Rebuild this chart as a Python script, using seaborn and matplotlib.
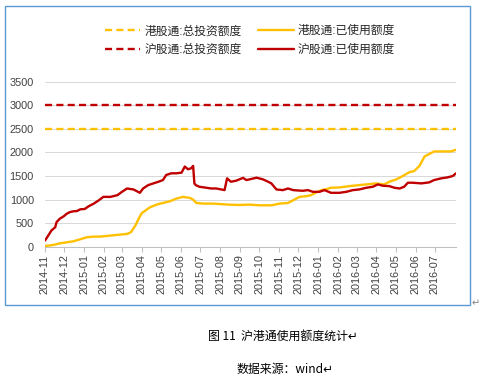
import matplotlib
matplotlib.use("Agg")
import matplotlib.pyplot as plt
import matplotlib.dates as mdates
from matplotlib.patches import Rectangle
import seaborn as sns
import pandas as pd

# ---------------- data ----------------
hk_quota = 2500   # 港股通:总投资额度
sh_quota = 3000   # 沪股通:总投资额度

sh_dates = ["2014-11-17", "2014-11-22", "2014-11-27", "2014-12-03", "2014-12-05", "2014-12-10",
            "2014-12-16", "2014-12-21", "2014-12-26", "2014-12-31", "2015-01-06", "2015-01-11",
            "2015-01-18", "2015-01-24", "2015-02-01", "2015-02-09", "2015-02-16", "2015-02-27",
            "2015-03-10", "2015-03-17", "2015-03-25", "2015-04-04", "2015-04-14", "2015-04-19",
            "2015-04-27", "2015-05-05", "2015-05-13", "2015-05-20", "2015-05-25", "2015-06-02",
            "2015-06-10", "2015-06-18", "2015-06-23", "2015-06-28", "2015-07-03", "2015-07-06",
            "2015-07-08", "2015-07-10", "2015-07-16", "2015-07-27", "2015-08-03", "2015-08-11",
            "2015-08-19", "2015-08-24", "2015-08-28", "2015-09-03", "2015-09-11", "2015-09-22",
            "2015-09-27", "2015-10-02", "2015-10-13", "2015-10-23", "2015-10-31", "2015-11-05",
            "2015-11-13", "2015-11-23", "2015-12-01", "2015-12-09", "2015-12-24", "2016-01-01",
            "2016-01-09", "2016-01-19", "2016-01-27", "2016-02-06", "2016-02-19", "2016-03-01",
            "2016-03-11", "2016-03-21", "2016-04-01", "2016-04-11", "2016-04-19", "2016-04-27",
            "2016-05-07", "2016-05-15", "2016-05-23", "2016-05-30", "2016-06-05", "2016-06-12",
            "2016-06-26", "2016-07-08", "2016-07-16", "2016-07-27", "2016-08-06", "2016-08-14",
            "2016-08-19"]
sh_used = [130, 235, 343, 414, 521, 593,
           643, 700, 735, 750, 757, 793,
           800, 857, 914, 985, 1057, 1057,
           1093, 1164, 1235, 1214, 1143, 1235,
           1307, 1343, 1378, 1414, 1521, 1557,
           1557, 1571, 1700, 1643, 1664, 1714,
           1343, 1307, 1271, 1250, 1235, 1235,
           1214, 1200, 1450, 1378, 1400, 1460,
           1414, 1428, 1464, 1428, 1378, 1343,
           1214, 1200, 1235, 1200, 1186, 1200,
           1164, 1164, 1200, 1143, 1143, 1164,
           1200, 1214, 1250, 1271, 1321, 1293,
           1285, 1250, 1235, 1271, 1357, 1357,
           1343, 1364, 1414, 1450, 1471, 1500,
           1557]

hk_dates = ["2014-11-17", "2014-11-30", "2014-12-10", "2014-12-21", "2014-12-31", "2015-01-11",
            "2015-01-21", "2015-02-01", "2015-02-11", "2015-02-21", "2015-03-04", "2015-03-14",
            "2015-03-25", "2015-03-31", "2015-04-07", "2015-04-12", "2015-04-17", "2015-04-22",
            "2015-04-29", "2015-05-10", "2015-05-20", "2015-05-31", "2015-06-10", "2015-06-20",
            "2015-07-01", "2015-07-06", "2015-07-11", "2015-07-22", "2015-08-06", "2015-08-22",
            "2015-08-29", "2015-09-16", "2015-10-02", "2015-10-18", "2015-11-05", "2015-11-18",
            "2015-12-01", "2015-12-09", "2015-12-19", "2015-12-29", "2016-01-06", "2016-01-14",
            "2016-01-22", "2016-01-30", "2016-02-06", "2016-02-19", "2016-03-06", "2016-03-21",
            "2016-04-06", "2016-04-16", "2016-04-29", "2016-05-07", "2016-05-18", "2016-05-28",
            "2016-06-07", "2016-06-15", "2016-06-23", "2016-07-01", "2016-07-06", "2016-07-16",
            "2016-07-29", "2016-08-11", "2016-08-19"]
hk_used = [15, 36, 71, 93, 114, 157,
           200, 214, 214, 228, 243, 257,
           271, 307, 450, 593, 714, 760,
           830, 893, 928, 964, 1021, 1057,
           1035, 1000, 928, 914, 914, 900,
           893, 885, 893, 878, 878, 914,
           928, 985, 1057, 1071, 1093, 1150,
           1200, 1221, 1250, 1257, 1285, 1307,
           1328, 1343, 1321, 1378, 1428, 1500,
           1578, 1607, 1714, 1914, 1950, 2021,
           2021, 2021, 2057]

tick_labels = ["2014-11", "2014-12", "2015-01", "2015-02", "2015-03", "2015-04", "2015-05",
               "2015-06", "2015-07", "2015-08", "2015-09", "2015-10", "2015-11", "2015-12",
               "2016-01", "2016-02", "2016-03", "2016-04", "2016-05", "2016-06", "2016-07"]

legend_labels = ["港股通:总投资额度", "沪股通:总投资额度", "港股通:已使用额度", "沪股通:已使用额度"]
caption = "图 11  沪港通使用额度统计↵"
source = "数据来源：wind↵"

# ---------------- style ----------------
sns.set_theme(style="white")
plt.rcParams["font.family"] = ["Liberation Sans", "Noto Sans CJK SC", "DejaVu Sans"]

YELLOW = "#FFC000"
RED = "#C00000"

sh_df = pd.DataFrame({"date": pd.to_datetime(sh_dates), "value": sh_used})
hk_df = pd.DataFrame({"date": pd.to_datetime(hk_dates), "value": hk_used})

fig = plt.figure(figsize=(4.89, 3.79), dpi=100)
W, H = 489, 379
ax = fig.add_axes([45 / W, 1 - 246.7 / H, (456 - 45) / W, (246.7 - 81.7) / H])

ax.axhline(hk_quota, color=YELLOW, lw=1.7, dashes=(3, 1.8), label=legend_labels[0])
ax.axhline(sh_quota, color=RED, lw=1.7, dashes=(3, 1.8), label=legend_labels[1])
sns.lineplot(data=hk_df, x="date", y="value", ax=ax, color=YELLOW, lw=1.7, label=legend_labels[2])
sns.lineplot(data=sh_df, x="date", y="value", ax=ax, color=RED, lw=1.7, label=legend_labels[3])

start = pd.Timestamp(sh_dates[0])
ticks = [start + pd.DateOffset(months=i) for i in range(len(tick_labels))]
ax.set_xlim(start, pd.Timestamp(sh_dates[-1]))
ax.set_xticks(ticks)
ax.set_xticklabels(tick_labels, rotation=90, fontsize=7.8, color="#404040")
ax.set_ylim(0, 3500)
ax.set_yticks(range(0, 3501, 500))
ax.tick_params(axis="y", labelsize=7.8, labelcolor="#404040", length=0, pad=8)
ax.tick_params(axis="x", length=3.5, width=0.75, color="#BFBFBF", pad=2, bottom=True)
ax.grid(axis="y", color="#D9D9D9", lw=0.75)
ax.set_axisbelow(True)
ax.set_xlabel("")
ax.set_ylabel("")
for s in ["top", "right", "left"]:
    ax.spines[s].set_visible(False)
ax.spines["bottom"].set_color("#BFBFBF")
ax.spines["bottom"].set_linewidth(0.75)

handles, labels = ax.get_legend_handles_labels()
ax.get_legend().remove()
fig.legend(handles, labels, loc="center", bbox_to_anchor=(250 / W, 1 - 40.5 / H), ncol=2,
           frameon=False, fontsize=8.5, handlelength=3.0, handletextpad=0.35,
           columnspacing=1.4, labelspacing=0.55,
           prop={"family": ["Liberation Sans", "Noto Sans CJK SC", "DejaVu Sans"], "size": 8.5})

# chart border (document frame)
fig.patches.append(Rectangle((5 / W, 1 - 305 / H), (470 - 5) / W, (305 - 6) / H,
                             transform=fig.transFigure, fill=False, edgecolor="#5B9BD5", lw=1.0))
fig.text(476 / W, 1 - 303 / H, "↵", fontsize=7, color="#808080", ha="center", va="center",
         family=["DejaVu Sans"])

fig.text(283 / W, 1 - 336 / H, caption, fontsize=8.6, ha="center", va="center", color="black",
         family=["Noto Sans CJK SC", "DejaVu Sans"])
fig.text(285 / W, 1 - 370 / H, source, fontsize=8.6, ha="center", va="center", color="black",
         family=["Noto Sans CJK SC", "DejaVu Sans"])

fig.savefig("out.png", dpi=100, facecolor="white")
